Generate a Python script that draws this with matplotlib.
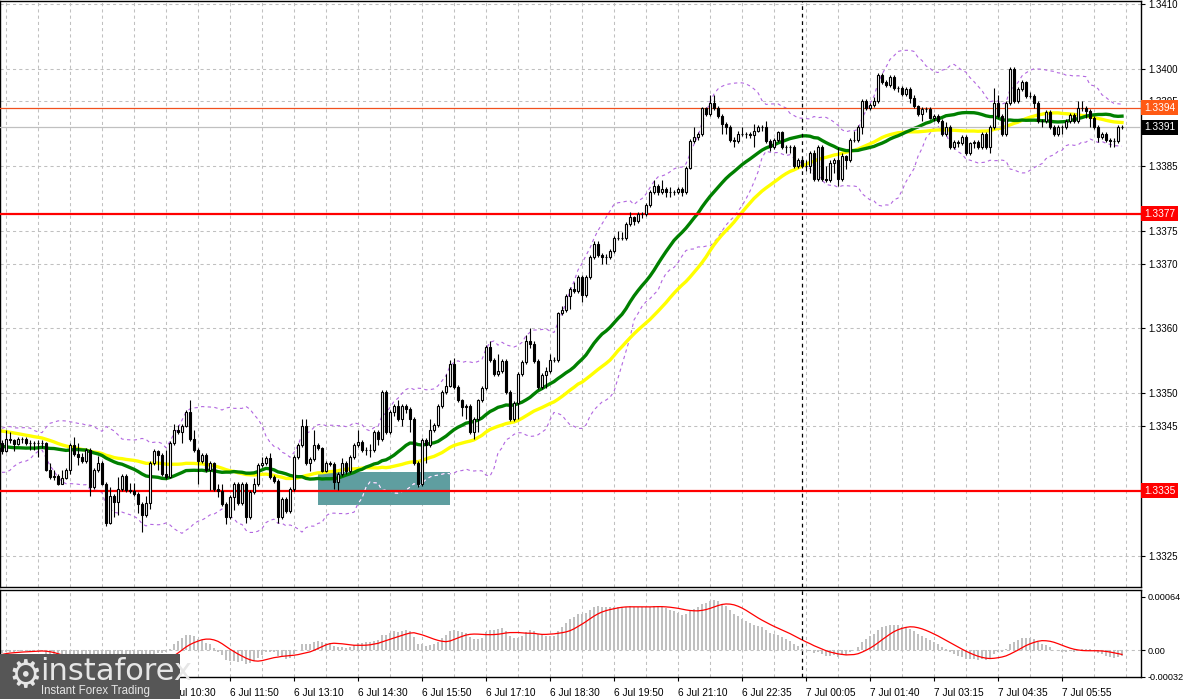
import numpy as np
import pandas as pd
import matplotlib
matplotlib.use("Agg")
from matplotlib import pyplot as plt
from matplotlib.patches import Rectangle

base = 1.3300   # prices are kept in pips above this level
pip = 0.0001

# closes before the visible window (needed by the moving averages)
warm_close = [47, 48, 47.5, 48.5, 49, 48, 47.5, 48.5, 47, 48,
              47.5, 47, 48, 48.5, 47.5, 47, 48, 47.5, 47, 46.5,
              46, 45, 44, 43, 44, 43, 42, 43, 41, 40,
              41, 39, 38, 39, 40, 41, 40, 39, 40, 41,
              42, 43, 44, 44, 43, 42, 43, 42, 42.3]

# M5 candles, 6 Jul 07:05 -> 7 Jul 06:05
close_p = [41.1, 43.0, 42.8, 42.2, 43.0, 43.0, 42.3, 42.4, 42.3, 42.4,
           42.3, 38.2, 37.1, 37.3, 36.1, 37.0, 38.2, 42.0, 40.7, 40.2,
           39.5, 41.2, 35.6, 38.2, 39.3, 36.1, 30.0, 34.1, 33.3, 35.2,
           37.2, 35.1, 35.0, 34.5, 33.0, 31.3, 33.1, 39.2, 41.1, 40.5,
           37.5, 37.1, 42.3, 44.3, 44.0, 45.0, 47.1, 43.0, 41.2, 39.5,
           40.5, 38.2, 39.2, 35.2, 35.0, 33.0, 31.0, 34.0, 36.0, 33.1,
           36.0, 31.0, 34.8, 36.0, 38.9, 39.2, 40.0, 37.1, 36.5, 31.0,
           33.7, 31.8, 35.3, 40.2, 42.0, 45.0, 39.2, 39.9, 42.0, 41.5,
           38.1, 39.2, 39.1, 36.4, 37.6, 39.2, 38.0, 40.2, 42.0, 42.5,
           41.2, 41.2, 41.2, 44.0, 43.0, 50.2, 44.1, 47.1, 48.1, 46.1,
           48.1, 47.6, 46.1, 39.2, 36.0, 42.8, 42.0, 44.3, 45.1, 48.1,
           50.2, 51.2, 54.5, 51.0, 48.9, 47.9, 48.1, 44.0, 46.0, 48.9,
           50.8, 57.1, 55.1, 53.0, 53.5, 55.0, 50.2, 46.1, 48.5, 53.0,
           54.8, 58.1, 57.6, 55.0, 51.0, 52.8, 53.5, 55.1, 55.2, 62.3,
           62.9, 65.0, 66.1, 65.8, 67.9, 65.1, 67.9, 71.0, 73.0, 71.3,
           71.0, 71.0, 72.0, 74.0, 74.0, 74.0, 76.1, 77.1, 76.5, 77.6,
           77.7, 79.0, 81.0, 82.0, 81.0, 81.5, 81.0, 81.0, 81.0, 81.5,
           81.0, 84.8, 88.9, 89.5, 89.9, 93.9, 93.0, 94.8, 94.0, 92.8,
           91.5, 91.0, 89.0, 88.9, 90.0, 90.0, 89.9, 89.8, 90.5, 91.0,
           91.0, 88.9, 88.0, 89.0, 90.2, 88.0, 87.9, 87.9, 85.1, 86.0,
           85.1, 85.0, 87.0, 83.0, 88.0, 83.0, 82.9, 85.5, 86.0, 83.0,
           86.5, 86.0, 89.0, 89.0, 91.0, 95.0, 94.0, 94.5, 95.0, 99.0,
           98.0, 97.5, 98.7, 97.0, 97.0, 96.1, 96.9, 95.5, 94.3, 93.0,
           93.8, 93.8, 92.5, 92.7, 92.0, 90.0, 91.0, 87.9, 88.7, 88.5,
           89.5, 87.1, 88.5, 88.7, 87.9, 89.9, 87.9, 91.0, 94.8, 92.8,
           90.0, 94.8, 100.0, 95.0, 96.9, 97.9, 95.8, 95.8, 94.8, 92.0,
           92.0, 93.3, 91.0, 90.0, 91.0, 91.0, 92.0, 92.9, 92.0, 94.0,
           94.0, 93.5, 92.5, 91.0, 89.5, 90.0, 89.0, 88.9, 88.9, 91.0,
           91.0]

high_p = [42.8, 44.3, 44.0, 43.0, 43.3, 43.2, 43.2, 42.8, 42.7, 42.8,
          42.8, 42.5, 39.2, 38.2, 37.6, 38.2, 38.5, 42.3, 43.2, 42.3,
          40.8, 41.5, 41.5, 38.5, 40.4, 39.6, 36.3, 35.5, 34.5, 37.1,
          37.5, 37.5, 36.2, 36.2, 34.8, 33.2, 34.1, 39.5, 41.4, 41.3,
          40.8, 41.2, 42.6, 45.3, 45.1, 45.3, 47.5, 48.9, 44.3, 41.5,
          40.8, 40.8, 39.5, 39.4, 36.1, 36.1, 33.3, 34.3, 36.4, 36.3,
          36.3, 36.3, 35.1, 37.0, 39.2, 40.2, 40.3, 40.8, 37.4, 36.8,
          34.0, 34.0, 35.6, 40.5, 42.3, 46.1, 46.1, 40.2, 44.3, 42.3,
          41.8, 39.5, 39.5, 39.4, 37.9, 40.0, 39.5, 40.5, 42.3, 44.4,
          42.8, 41.8, 42.2, 44.3, 44.3, 50.5, 50.5, 47.4, 48.4, 49.0,
          48.4, 48.3, 47.9, 46.4, 39.5, 43.1, 43.1, 46.1, 45.4, 48.4,
          50.5, 53.0, 55.1, 55.5, 51.3, 49.2, 48.4, 48.4, 46.3, 49.2,
          51.1, 57.4, 58.1, 55.4, 56.0, 55.3, 55.3, 50.5, 48.8, 53.3,
          55.1, 59.0, 60.1, 58.0, 55.3, 53.1, 54.0, 56.0, 55.6, 62.6,
          63.5, 65.3, 66.4, 67.2, 68.2, 68.2, 68.2, 71.3, 73.5, 73.4,
          71.6, 71.5, 72.3, 74.3, 75.0, 74.8, 76.4, 77.9, 77.4, 77.9,
          78.0, 79.3, 81.3, 82.8, 82.3, 82.8, 81.8, 81.8, 81.3, 81.8,
          81.8, 85.1, 89.2, 91.0, 90.2, 94.2, 94.2, 96.0, 96.0, 94.3,
          93.1, 91.8, 91.3, 89.5, 90.5, 91.0, 90.3, 90.2, 91.5, 91.3,
          91.3, 92.0, 89.2, 89.3, 90.5, 90.5, 88.3, 88.3, 88.2, 86.3,
          86.3, 86.0, 87.4, 87.5, 88.3, 88.3, 85.0, 86.0, 86.3, 88.0,
          87.0, 86.8, 89.3, 90.5, 91.3, 95.3, 95.3, 94.8, 95.6, 99.3,
          99.3, 98.3, 99.0, 99.0, 97.3, 97.3, 97.2, 97.2, 95.9, 94.5,
          94.1, 94.1, 94.1, 93.0, 93.0, 92.3, 91.8, 91.3, 89.0, 89.0,
          89.8, 89.8, 88.8, 89.0, 89.0, 90.2, 90.2, 91.3, 97.0, 96.0,
          93.1, 95.1, 100.3, 100.3, 97.2, 98.3, 98.2, 96.5, 96.1, 95.1,
          92.3, 93.6, 93.6, 91.3, 91.3, 91.3, 92.3, 93.2, 93.2, 95.0,
          95.0, 94.3, 93.8, 92.8, 91.3, 90.3, 90.3, 89.3, 89.3, 91.3,
          91.3]

low_p = [40.6, 41.0, 42.3, 41.1, 42.0, 42.3, 42.0, 41.2, 41.2, 40.2,
         41.5, 38.0, 36.8, 36.6, 35.8, 36.0, 36.8, 37.5, 40.4, 39.0,
         39.2, 39.2, 34.1, 35.3, 37.8, 35.8, 29.5, 29.8, 31.0, 31.2,
         35.0, 34.8, 34.6, 34.2, 31.5, 28.7, 31.0, 32.1, 39.0, 38.2,
         37.2, 36.8, 36.9, 42.0, 43.7, 42.3, 44.8, 42.7, 40.9, 36.1,
         39.2, 37.9, 35.1, 34.9, 34.0, 32.7, 29.8, 30.7, 32.0, 32.8,
         32.8, 30.0, 30.7, 34.5, 35.7, 38.6, 38.9, 36.8, 36.2, 30.0,
         30.7, 31.5, 31.5, 35.0, 39.9, 41.7, 38.9, 38.1, 39.6, 41.2,
         37.8, 37.8, 38.8, 35.2, 35.1, 37.3, 37.5, 37.7, 39.9, 41.7,
         40.9, 40.5, 40.2, 40.9, 42.0, 42.7, 43.8, 43.8, 46.5, 45.8,
         45.0, 47.0, 44.0, 38.9, 35.5, 35.7, 39.2, 41.7, 44.0, 44.8,
         47.8, 49.9, 50.9, 50.7, 48.6, 46.5, 46.0, 43.7, 43.0, 44.0,
         48.6, 50.5, 54.8, 52.7, 52.7, 53.2, 49.9, 45.8, 45.8, 46.0,
         52.7, 54.5, 57.0, 54.7, 50.7, 50.7, 50.8, 53.2, 54.8, 54.9,
         62.0, 62.5, 63.0, 65.5, 65.5, 64.0, 64.8, 67.6, 70.7, 71.0,
         70.0, 69.9, 70.7, 71.7, 73.7, 73.7, 73.7, 75.8, 76.0, 76.2,
         77.0, 77.4, 78.7, 80.7, 80.5, 80.7, 80.3, 80.3, 80.5, 80.7,
         80.4, 80.7, 84.5, 88.6, 89.0, 89.6, 92.7, 92.7, 93.7, 92.5,
         90.0, 90.0, 88.7, 88.0, 88.6, 89.7, 89.4, 89.3, 88.0, 90.2,
         90.4, 88.6, 87.3, 87.7, 88.7, 87.7, 87.1, 87.1, 84.8, 84.8,
         84.8, 84.2, 84.0, 82.7, 82.7, 82.7, 82.6, 82.6, 84.0, 82.0,
         82.7, 84.5, 85.7, 88.7, 88.7, 90.0, 93.7, 93.7, 94.2, 94.7,
         97.7, 97.2, 97.2, 96.7, 96.5, 95.8, 95.8, 94.8, 94.0, 92.7,
         92.0, 93.3, 92.2, 92.0, 91.7, 89.7, 89.7, 87.6, 87.6, 88.0,
         88.2, 86.8, 86.8, 87.8, 87.6, 87.6, 87.6, 87.0, 90.7, 92.5,
         89.7, 89.7, 94.5, 94.7, 94.7, 96.6, 95.5, 95.5, 94.0, 91.7,
         91.0, 91.7, 90.7, 89.7, 89.7, 90.0, 90.7, 91.7, 91.7, 91.7,
         93.5, 92.5, 91.0, 90.7, 88.8, 89.2, 88.7, 88.0, 88.0, 88.6,
         90.7]

tick_idx = [41, 57, 73, 89, 105, 121, 137, 153, 169, 185, 201, 217, 233, 249, 265]
tick_lab = ["6 Jul 10:30", "6 Jul 11:50", "6 Jul 13:10", "6 Jul 14:30", "6 Jul 15:50",
            "6 Jul 17:10", "6 Jul 18:30", "6 Jul 19:50", "6 Jul 21:10", "6 Jul 22:35",
            "7 Jul 00:05", "7 Jul 01:40", "7 Jul 03:15", "7 Jul 04:35", "7 Jul 05:55"]
price_ticks = [1.3325, 1.3345, 1.3350, 1.3360, 1.3370, 1.3375, 1.3385, 1.3395, 1.3400, 1.3410]
macd_ticks = [0.00064, 0.0, -0.00032]
macd_labs = ['0.00064', '0.00', '-0.00032']
support = 1.33350
resist = 1.33777
ask_line = 1.3394
bid_line = 1.3391

plt.rcParams['font.family'] = ['Liberation Sans', 'DejaVu Sans']

# ---- series in price units
nw = len(warm_close)
allc = pd.Series(np.r_[warm_close, close_p]) * pip + base
c = np.array(close_p) * pip + base
o = np.r_[warm_close[-1], close_p[:-1]] * pip + base
hi = np.maximum(np.array(high_p) * pip + base, np.maximum(o, c))
lo = np.minimum(np.array(low_p) * pip + base, np.minimum(o, c))
idx = np.arange(len(c))

ma30 = allc.rolling(30, min_periods=1).mean().values[nw:]
ma50 = allc.rolling(50, min_periods=1).mean().values[nw:]
mid = allc.rolling(20, min_periods=1).mean()
sd = allc.rolling(20, min_periods=1).std(ddof=0)
bb_up = (mid + 2 * sd).values[nw:]
bb_dn = (mid - 2 * sd).values[nw:]
macd = (allc.ewm(span=12, adjust=False).mean() - allc.ewm(span=26, adjust=False).mean())
sig = macd.rolling(9, min_periods=1).mean().values[nw:]
macd = macd.values[nw:]

# ---- figure
W, H = 1183, 699
fig = plt.figure(figsize=(W / 100, H / 100), dpi=100)
fig.patch.set_facecolor('white')
ax = fig.add_axes([0, (H - 587) / H, 1141 / W, 586 / H])
ax2 = fig.add_axes([0, (H - 677) / H, 1141 / W, 87 / H])

xl = (-0.5, -0.5 + 1141 / 4)
grid_kw = dict(color='#c0c0c0', lw=0.75, ls=(0, (3, 3)), zorder=0)

for a in (ax, ax2):
    a.set_xlim(*xl)
    for s in a.spines.values():
        s.set_color('black')
        s.set_linewidth(1)
    for g in range(1, 285, 8):
        a.axvline(g, **grid_kw)
    a.axvline(200, color='black', lw=0.9, ls=(0, (3, 3)), zorder=6)
    a.yaxis.tick_right()
    a.tick_params(axis='y', direction='out', length=3, width=0.8, pad=2,
                  labelsize=7, colors='black')

# main panel
ax.set_ylim(base + 20.15 * pip, base + 110.46 * pip)
for t in price_ticks:
    ax.axhline(t, **grid_kw)
ax.set_yticks(price_ticks)
ax.set_yticklabels(['%.4f' % t for t in price_ticks])
ax.set_xticks([])

rect = Rectangle((79, base + 32.77 * pip), 33, 5.08 * pip, facecolor='#5f9ea0',
                 edgecolor='none', zorder=1.5)
ax.add_patch(rect)

bb_kw = dict(color='#b266e0', lw=0.8, ls=(0, (3, 3)), zorder=2)
ax.plot(idx, bb_up, **bb_kw)
ax.plot(idx, bb_dn, **bb_kw)
wl, = ax.plot(idx, bb_dn, color='white', lw=0.8, ls=(0, (3, 3)), zorder=2.1)
wl.set_clip_path(rect)

ax.plot(idx, ma50, color='#ffff00', lw=2.4, zorder=2.5)
ax.plot(idx, ma30, color='#008000', lw=2.4, zorder=2.6)

ax.axhline(support, color='#ff0000', lw=1.6, zorder=2.7)
ax.axhline(resist, color='#ff0000', lw=1.6, zorder=2.7)
ax.axhline(ask_line, color='#f0501e', lw=0.9, zorder=2.7)
ax.axhline(bid_line, color='#c0c0c0', lw=0.9, zorder=2.7)

up = c >= o
ax.vlines(idx, lo, hi, color='black', lw=0.8, zorder=3)
ax.bar(idx[up], (c - o)[up], bottom=o[up], width=0.45, color='white',
       edgecolor='black', lw=0.8, zorder=4)
ax.bar(idx[~up], (c - o)[~up], bottom=o[~up], width=0.45, color='black',
       edgecolor='black', lw=0.8, zorder=4)

ytr = ax.get_yaxis_transform()
for val, txt, fc in [(support, '1.3335', '#ff0000'), (resist, '1.3377', '#ff0000'),
                     (ask_line, '1.3394', '#ff5a14'), (bid_line, '1.3391', '#000000')]:
    ax.text(1.0025, val, txt, transform=ytr, ha='left', va='center', fontsize=7.3,
            color='white', clip_on=False, zorder=10,
            bbox=dict(boxstyle='square,pad=0.25', fc=fc, ec='none'))

# MACD panel
ax2.set_ylim(-0.00032, 0.000723)
ax2.axhline(0, **grid_kw)
ax2.bar(idx, macd, width=0.5, color='#c0c0c0', edgecolor='none', zorder=2)
ax2.plot(idx, sig, color='#ff0000', lw=0.9, zorder=3)
ax2.set_yticks(macd_ticks)
ax2.set_yticklabels(macd_labs)
ax2.tick_params(axis='y', labelsize=6.6, pad=1.5)
ax2.set_xticks(tick_idx)
ax2.set_xticklabels(tick_lab, ha='left', fontsize=7.3)
ax2.tick_params(axis='x', direction='out', length=3, width=0.8, pad=5)

# instaforex watermark
fig.patches.append(Rectangle((0, 0), 180 / W, 45 / H, transform=fig.transFigure,
                             facecolor='#565656', edgecolor='none', zorder=20))
fig.text(8 / W, 22 / H, '\u2699', fontsize=27, color='#e6e6e6', va='center',
         family='DejaVu Sans', zorder=21)
fig.text(40 / W, 27 / H, 'instaforex', fontsize=22, color='#e6e6e6', va='center',
         family='DejaVu Sans', zorder=21)
fig.text(41 / W, 8 / H, 'Instant Forex Trading', fontsize=8.3, color='#e6e6e6',
         va='center', zorder=21)

fig.savefig('out.png', dpi=100)
